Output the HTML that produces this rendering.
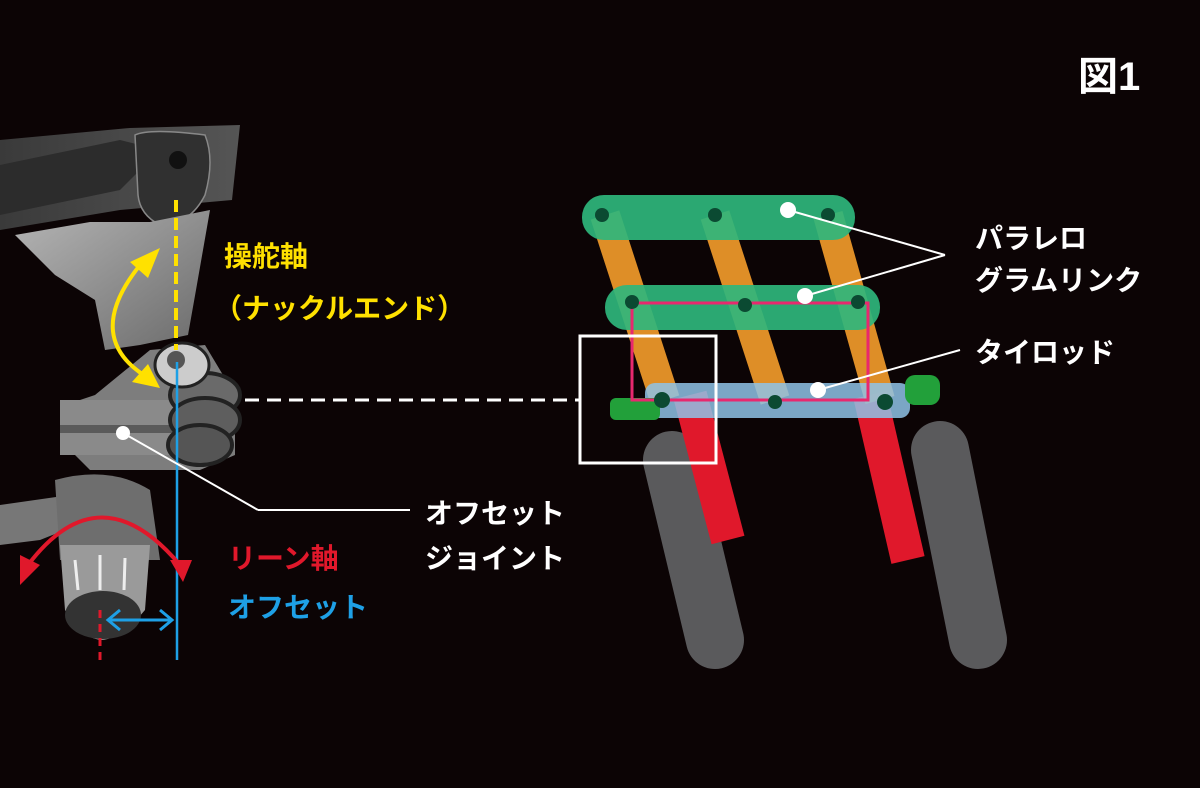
<!DOCTYPE html>
<html><head><meta charset="utf-8"><style>
html,body{margin:0;padding:0;background:#0c0405;}
svg{display:block}
text{font-family:"Liberation Sans","Noto Sans CJK JP",sans-serif;font-weight:bold}
</style></head><body>
<svg width="1200" height="788" viewBox="0 0 1200 788" xmlns="http://www.w3.org/2000/svg">
<defs>
<linearGradient id="m" x1="0" y1="0" x2="1" y2="1"><stop offset="0" stop-color="#b5b5b5"/><stop offset="1" stop-color="#6a6a6a"/></linearGradient>
<linearGradient id="d" x1="0" y1="0" x2="1" y2="0"><stop offset="0" stop-color="#3a3a3a"/><stop offset="1" stop-color="#555"/></linearGradient>
</defs>
<rect width="1200" height="788" fill="#0c0405"/>
<!-- left mechanism -->
<polygon points="0,140 130,128 240,125 232,200 120,210 0,230" fill="url(#d)"/>
<polygon points="0,165 120,140 160,150 120,190 0,215" fill="#2c2c2c"/>
<path d="M135,135 Q150,128 205,135 Q215,160 205,195 Q190,225 160,225 Q140,215 138,195 Z" fill="#303030" stroke="#888" stroke-width="1.5"/>
<circle cx="178" cy="160" r="9" fill="#111"/>
<polygon points="15,235 90,222 150,222 210,210 196,290 188,335 140,345 105,350 95,300 55,275" fill="url(#m)"/>
<polygon points="95,395 150,350 205,345 235,395 235,455 200,470 90,470 60,440 65,405" fill="#7d7d7d"/>
<rect x="60" y="400" width="150" height="55" fill="#8a8a8a"/>
<rect x="60" y="425" width="150" height="8" fill="#5a5a5a"/>
<ellipse cx="205" cy="395" rx="35" ry="22" fill="#6a6a6a" stroke="#222" stroke-width="4"/>
<ellipse cx="205" cy="420" rx="35" ry="22" fill="#5e5e5e" stroke="#222" stroke-width="4"/>
<ellipse cx="200" cy="445" rx="32" ry="20" fill="#555" stroke="#222" stroke-width="4"/>
<ellipse cx="182" cy="365" rx="27" ry="22" fill="#ccc" stroke="#222" stroke-width="3"/>
<circle cx="176" cy="360" r="9" fill="#555"/>
<path d="M0,505 L70,495 L90,520 L40,540 L0,545 Z" fill="#777"/>
<path d="M55,480 Q110,465 150,490 L160,560 L60,560 Z" fill="#6e6e6e"/>
<path d="M60,545 L150,545 L145,610 Q120,640 100,640 Q75,635 65,610 Z" fill="#9a9a9a"/>
<ellipse cx="103" cy="615" rx="38" ry="24" fill="#333"/>
<g stroke="#eee" stroke-width="3"><line x1="75" y1="560" x2="78" y2="590"/><line x1="100" y1="555" x2="100" y2="590"/><line x1="125" y1="558" x2="124" y2="590"/></g>
<!-- axes -->
<line x1="176" y1="200" x2="176" y2="350" stroke="#ffe100" stroke-width="4" stroke-dasharray="12,6"/>
<line x1="177" y1="362" x2="177" y2="660" stroke="#1ea0e6" stroke-width="2.5"/>
<line x1="100" y1="610" x2="100" y2="662" stroke="#e0182b" stroke-width="3" stroke-dasharray="8,6"/>
<path d="M152,380 Q80,340 140,265" fill="none" stroke="#ffe100" stroke-width="4"/>
<polygon points="160,248 130,262 148,278" fill="#ffe100"/>
<polygon points="160,388 132,382 148,364" fill="#ffe100"/>
<path d="M28,565 Q100,470 180,565" fill="none" stroke="#e0182b" stroke-width="4"/>
<polygon points="20,585 20,555 40,565" fill="#e0182b"/>
<polygon points="183,582 170,560 192,560" fill="#e0182b"/>
<line x1="108" y1="620" x2="172" y2="620" stroke="#1ea0e6" stroke-width="3"/>
<polyline points="120,610 108,620 120,630" fill="none" stroke="#1ea0e6" stroke-width="3"/>
<polyline points="160,610 172,620 160,630" fill="none" stroke="#1ea0e6" stroke-width="3"/>
<circle cx="123" cy="433" r="7" fill="#fff"/>
<line x1="123" y1="433" x2="258" y2="510" stroke="#fff" stroke-width="2"/>
<line x1="258" y1="510" x2="410" y2="510" stroke="#fff" stroke-width="2"/>
<line x1="245" y1="400" x2="580" y2="400" stroke="#fff" stroke-width="3" stroke-dasharray="14,8"/>
<!-- labels left -->
<text x="224" y="266" fill="#ffe100" font-size="28">操舵軸</text>
<text x="214" y="318" fill="#ffe100" font-size="28">（ナックルエンド）</text>
<text x="228" y="568" fill="#e0182b" font-size="28">リーン軸</text>
<text x="228" y="617" fill="#1ea0e6" font-size="28">オフセット</text>
<text x="425" y="523" fill="#fff" font-size="28" font-weight="normal">オフセット</text>
<text x="425" y="568" fill="#fff" font-size="28" font-weight="normal">ジョイント</text>
<text x="1078" y="90" fill="#fff" font-size="40">図1</text>
<!-- right: tires -->
<line x1="672" y1="460" x2="715" y2="640" stroke="#5a5a5c" stroke-width="58" stroke-linecap="round"/>
<line x1="940" y1="450" x2="978" y2="640" stroke="#5a5a5c" stroke-width="58" stroke-linecap="round"/>
<!-- red struts -->
<line x1="690" y1="395" x2="728" y2="540" stroke="#e0182b" stroke-width="34"/>
<line x1="870" y1="395" x2="908" y2="560" stroke="#e0182b" stroke-width="34"/>
<!-- orange -->
<g stroke="#f09a2a" stroke-width="30" opacity="0.92">
<line x1="605" y1="215" x2="665" y2="400"/>
<line x1="715" y1="215" x2="775" y2="400"/>
<line x1="828" y1="215" x2="880" y2="400"/>
</g>
<!-- green bars -->
<rect x="582" y="195" width="273" height="45" rx="22" fill="#2fb67c" opacity="0.92"/>
<rect x="605" y="285" width="275" height="45" rx="22" fill="#2fb67c" opacity="0.92"/>
<rect x="645" y="383" width="265" height="35" rx="10" fill="#8fc3e8" opacity="0.85"/>
<rect x="610" y="398" width="50" height="22" rx="6" fill="#22a03a"/>
<rect x="905" y="375" width="35" height="30" rx="10" fill="#22a03a"/>
<rect x="632" y="303" width="236" height="97" fill="none" stroke="#e8286e" stroke-width="3"/>
<g fill="#0b4a32">
<circle cx="602" cy="215" r="7"/><circle cx="715" cy="215" r="7"/><circle cx="828" cy="215" r="7"/>
<circle cx="632" cy="302" r="7"/><circle cx="745" cy="305" r="7"/><circle cx="858" cy="302" r="7"/>
<circle cx="662" cy="400" r="8"/><circle cx="775" cy="402" r="7"/><circle cx="885" cy="402" r="8"/>
</g>
<rect x="580" y="336" width="136" height="127" fill="none" stroke="#fff" stroke-width="3"/>
<!-- leaders -->
<g stroke="#fff" stroke-width="2" fill="none">
<polyline points="788,210 945,255"/><polyline points="805,296 945,255"/>
<polyline points="818,390 960,350"/>
</g>
<circle cx="788" cy="210" r="8" fill="#fff"/><circle cx="805" cy="296" r="8" fill="#fff"/><circle cx="818" cy="390" r="8" fill="#fff"/>
<text x="975" y="248" fill="#fff" font-size="28" font-weight="normal">パラレロ</text>
<text x="975" y="290" fill="#fff" font-size="28" font-weight="normal">グラムリンク</text>
<text x="975" y="362" fill="#fff" font-size="28" font-weight="normal">タイロッド</text>
</svg>
</body></html>
